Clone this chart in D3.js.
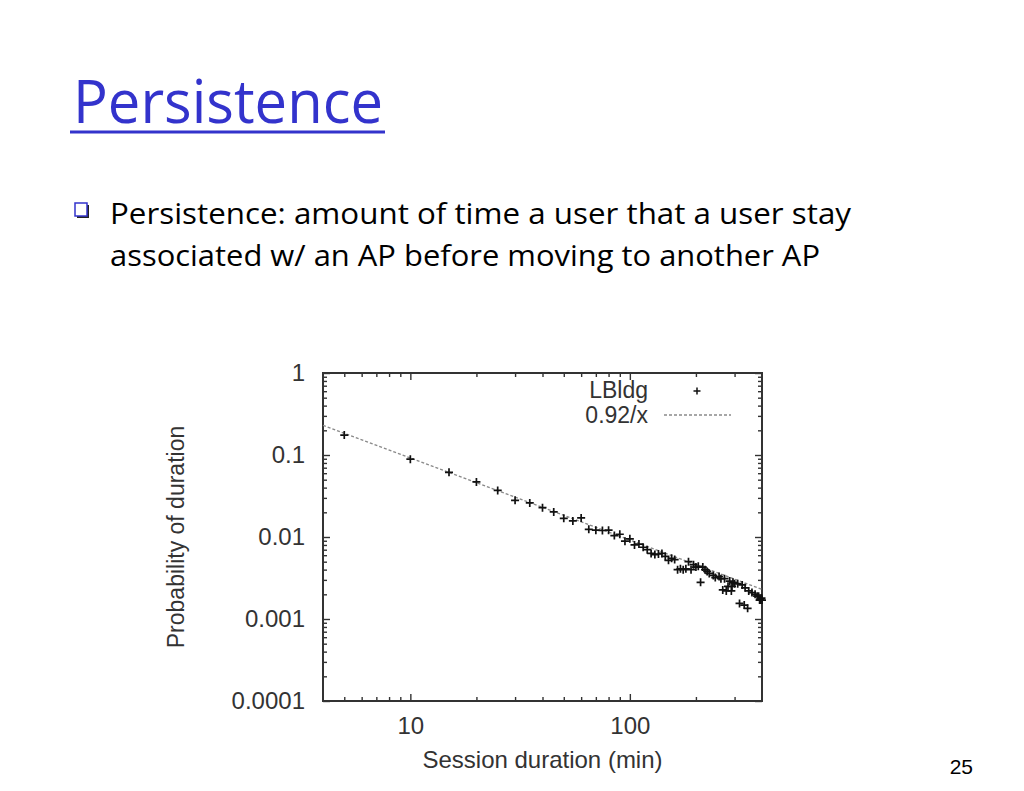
<!DOCTYPE html>
<html>
<head>
<meta charset="utf-8">
<script src="https://cdn.jsdelivr.net/npm/d3@7"></script>
<style>
  html, body { margin: 0; padding: 0; background: #ffffff; }
  svg { display: block; }
</style>
</head>
<body>
<svg id="slide" width="1024" height="791"></svg>
<script>
// ---------- data ----------
const titleText = "Persistence";
const bulletLines = [
  "Persistence: amount of time a user that a user stay",
  "associated w/ an AP before moving to another AP"
];
const pageNumber = "25";

const xLabel = "Session duration (min)";
const yLabel = "Probability of duration";

const xMajorTicks = [10, 100];
const xMinorTicks = [5, 6, 7, 8, 9, 20, 30, 40, 50, 60, 70, 80, 90, 200, 300];
const yMajorTicks = [1, 0.1, 0.01, 0.001, 0.0001];
const yTickLabels = ["1", "0.1", "0.01", "0.001", "0.0001"];
const yMinorTicks = [
  0.2, 0.3, 0.4, 0.5, 0.6, 0.7, 0.8, 0.9,
  0.02, 0.03, 0.04, 0.05, 0.06, 0.07, 0.08, 0.09,
  0.002, 0.003, 0.004, 0.005, 0.006, 0.007, 0.008, 0.009,
  0.0002, 0.0003, 0.0004, 0.0005, 0.0006, 0.0007, 0.0008, 0.0009
];

const seriesName = "LBldg";
const sessionMinutes = [
  5, 10, 15, 20, 25, 30, 35, 40, 45, 50,
  55, 60, 65, 70, 75, 80, 85, 90, 95, 100,
  105, 110, 115, 120, 125, 130, 135, 140, 145, 150,
  155, 160, 165, 170, 175, 180, 185, 190, 195, 200,
  205, 210, 215, 220, 225, 230, 240, 245, 255, 260,
  265, 270, 275, 280, 285, 290, 292, 295, 300, 310,
  316, 325, 332, 335, 344, 348, 360, 372, 380, 386,
  390, 394, 398, 400
];
const probability = [
  0.175, 0.089, 0.0615, 0.047, 0.037, 0.028, 0.026, 0.0228, 0.0202, 0.0169,
  0.0157, 0.0171, 0.0124, 0.0121, 0.0120, 0.0121, 0.0104, 0.0108, 0.0089, 0.0095,
  0.0080, 0.0082, 0.0075, 0.0070, 0.0063, 0.0061, 0.0062, 0.0063, 0.0058, 0.0052,
  0.0055, 0.0053, 0.0040, 0.0041, 0.0040, 0.0041, 0.0050, 0.0040, 0.0046, 0.0043,
  0.0044, 0.0028, 0.0043, 0.0040, 0.0038, 0.0036, 0.0034, 0.0032, 0.0033, 0.0031,
  0.00226, 0.0031, 0.0022, 0.0025, 0.0029, 0.0022, 0.0025, 0.0028, 0.0027, 0.0027,
  0.00155, 0.0026, 0.00148, 0.0024, 0.00135, 0.0022, 0.0021, 0.0020, 0.0019, 0.0019,
  0.0017, 0.0017, 0.0018, 0.0017
];

const fitName = "0.92/x";
const fitX = [4, 400];
const fitY = [0.23, 0.0023];

// ---------- drawing ----------
(function () {
const svg = d3.select("#slide");
const ink = "#333333";
const axisFont = "'Liberation Sans', Arial, sans-serif";
const slideFont = "'Open Sans', 'DejaVu Sans', sans-serif";

// Title
svg.append("text")
  .attr("x", 73).attr("y", 123)
  .attr("font-family", slideFont)
  .attr("font-size", 60)
  .attr("fill", "#3333CC")
  .attr("textLength", 310)
  .attr("lengthAdjust", "spacingAndGlyphs")
  .text(titleText);
svg.append("rect")
  .attr("x", 70).attr("y", 130.5).attr("width", 315).attr("height", 3)
  .attr("fill", "#3333CC");

// Bullet square
svg.append("rect").attr("x", 77).attr("y", 205).attr("width", 12).attr("height", 13).attr("fill", "#222");
svg.append("rect").attr("x", 75).attr("y", 203).attr("width", 12).attr("height", 13)
  .attr("fill", "#ffffff").attr("stroke", "#3333CC").attr("stroke-width", 1.5);

const bulletWidths = [741, 710];
bulletLines.forEach((t, i) => {
  svg.append("text")
    .attr("x", 110).attr("y", 224 + i * 42)
    .attr("font-family", slideFont)
    .attr("font-size", 29)
    .attr("fill", "#000")
    .attr("textLength", bulletWidths[i])
    .attr("lengthAdjust", "spacingAndGlyphs")
    .text(t);
});

// Page number
svg.append("text")
  .attr("x", 973).attr("y", 774)
  .attr("text-anchor", "end")
  .attr("font-family", axisFont)
  .attr("font-size", 21)
  .attr("fill", "#000")
  .text(pageNumber);

// Plot area
const pL = 323, pR = 762, pT = 373, pB = 701;
const x = d3.scaleLog().domain([4, 400]).range([pL, pR]);
const y = d3.scaleLog().domain([0.0001, 1]).range([pB, pT]);

const g = svg.append("g");

function styleAxis(sel) {
  sel.select(".domain").remove();
  sel.selectAll(".tick line").attr("stroke", ink).attr("stroke-width", 1.4);
}

// bottom axis major (with labels)
g.append("g").attr("transform", `translate(0,${pB})`)
  .call(d3.axisBottom(x).tickValues(xMajorTicks).tickSizeInner(-7).tickSizeOuter(0).tickPadding(16).tickFormat(d3.format("d")))
  .call(styleAxis)
  .call(s => s.selectAll("text").attr("font-family", axisFont).attr("font-size", 24).attr("fill", ink));
g.append("g").attr("transform", `translate(0,${pB})`)
  .call(d3.axisBottom(x).tickValues(xMinorTicks).tickSizeInner(-4).tickSizeOuter(0).tickFormat(""))
  .call(styleAxis);
// top axis
g.append("g").attr("transform", `translate(0,${pT})`)
  .call(d3.axisTop(x).tickValues(xMajorTicks).tickSizeInner(-7).tickSizeOuter(0).tickFormat(""))
  .call(styleAxis);
g.append("g").attr("transform", `translate(0,${pT})`)
  .call(d3.axisTop(x).tickValues(xMinorTicks).tickSizeInner(-4).tickSizeOuter(0).tickFormat(""))
  .call(styleAxis);
// left axis
g.append("g").attr("transform", `translate(${pL},0)`)
  .call(d3.axisLeft(y).tickValues(yMajorTicks).tickSizeInner(-7).tickSizeOuter(0).tickPadding(18)
    .tickFormat((d, i) => yTickLabels[i]))
  .call(styleAxis)
  .call(s => s.selectAll("text").attr("font-family", axisFont).attr("font-size", 24).attr("fill", ink));
g.append("g").attr("transform", `translate(${pL},0)`)
  .call(d3.axisLeft(y).tickValues(yMinorTicks).tickSizeInner(-4).tickSizeOuter(0).tickFormat(""))
  .call(styleAxis);
// right axis
g.append("g").attr("transform", `translate(${pR},0)`)
  .call(d3.axisRight(y).tickValues(yMajorTicks).tickSizeInner(-7).tickSizeOuter(0).tickFormat(""))
  .call(styleAxis);
g.append("g").attr("transform", `translate(${pR},0)`)
  .call(d3.axisRight(y).tickValues(yMinorTicks).tickSizeInner(-4).tickSizeOuter(0).tickFormat(""))
  .call(styleAxis);

// frame
g.append("rect")
  .attr("x", pL).attr("y", pT).attr("width", pR - pL).attr("height", pB - pT)
  .attr("fill", "none").attr("stroke", ink).attr("stroke-width", 2);

// fit line
const fitData = fitX.map((v, i) => [v, fitY[i]]);
g.append("path")
  .datum(fitData)
  .attr("d", d3.line().x(d => x(d[0])).y(d => y(d[1])))
  .attr("fill", "none").attr("stroke", "#8a8a8a").attr("stroke-width", 1.4)
  .attr("stroke-dasharray", "3,2");

// points
const plus = "M-4,0H4M0,-4V4";
g.append("g").selectAll("path")
  .data(sessionMinutes.map((v, i) => [v, probability[i]]))
  .join("path")
  .attr("transform", d => `translate(${x(d[0])},${y(d[1])})`)
  .attr("d", plus)
  .attr("stroke", "#111").attr("stroke-width", 1.7).attr("fill", "none");

// legend
g.append("text").attr("x", 648).attr("y", 398).attr("text-anchor", "end")
  .attr("font-family", axisFont).attr("font-size", 23).attr("fill", ink).text(seriesName);
g.append("path").attr("transform", "translate(697,391)").attr("d", "M-3.5,0H3.5M0,-3.5V3.5")
  .attr("stroke", "#111").attr("stroke-width", 1.5);
g.append("text").attr("x", 648).attr("y", 423).attr("text-anchor", "end")
  .attr("font-family", axisFont).attr("font-size", 23).attr("fill", ink).text(fitName);
g.append("line").attr("x1", 664).attr("x2", 731).attr("y1", 415).attr("y2", 415)
  .attr("stroke", "#8a8a8a").attr("stroke-width", 1.3).attr("stroke-dasharray", "3,2");

// axis titles
svg.append("text")
  .attr("x", (pL + pR) / 2).attr("y", 768)
  .attr("text-anchor", "middle")
  .attr("font-family", axisFont).attr("font-size", 24).attr("fill", ink)
  .text(xLabel);
svg.append("text")
  .attr("transform", `translate(184,${(pT + pB) / 2}) rotate(-90)`)
  .attr("text-anchor", "middle")
  .attr("font-family", axisFont).attr("font-size", 23).attr("fill", ink)
  .text(yLabel);
})();
</script>
</body>
</html>
